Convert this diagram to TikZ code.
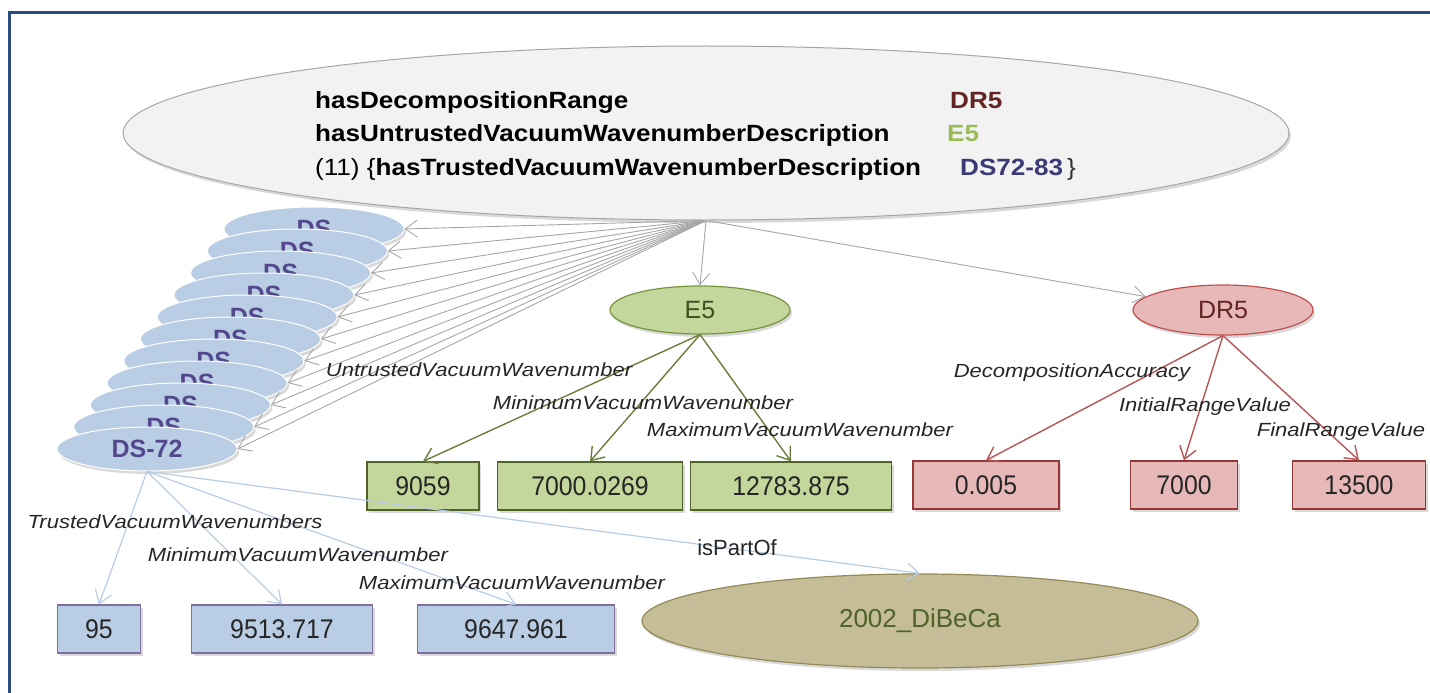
\documentclass[tikz,border=0pt]{standalone}
\usepackage{fontspec}
\setmainfont{Liberation Sans}
\newfontfamily\topfont{Liberation Sans}[FakeStretch=1.11]
\newfontfamily\edgefont{Liberation Sans}[FakeStretch=1.16]
\newfontfamily\valfont{Liberation Sans}[FakeStretch=0.92]
\usetikzlibrary{arrows.meta, shapes.geometric, shadows}
\definecolor{framecol}{RGB}{44,77,127}
\definecolor{topfill}{RGB}{242,242,242}
\definecolor{arrowgray}{RGB}{166,166,166}
\definecolor{dsfill}{RGB}{185,205,229}
\definecolor{dstext}{RGB}{84,72,140}
\definecolor{dsref}{RGB}{60,58,118}
\definecolor{efill}{RGB}{195,214,155}
\definecolor{eline}{RGB}{119,147,60}
\definecolor{edark}{RGB}{79,98,40}
\definecolor{earrow}{RGB}{108,126,60}
\definecolor{etext}{RGB}{155,187,89}
\definecolor{rfill}{RGB}{230,185,184}
\definecolor{rline}{RGB}{192,80,77}
\definecolor{rdark}{RGB}{149,55,53}
\definecolor{rtext}{RGB}{99,37,35}
\definecolor{rarrow}{RGB}{182,86,86}
\definecolor{bline}{RGB}{128,110,160}
\definecolor{barrow}{RGB}{184,204,228}
\definecolor{srcfill}{RGB}{196,189,151}
\definecolor{srcline}{RGB}{148,138,84}

\begin{document}
\begin{tikzpicture}[
      x=1pt, y=-1pt,
      >={Straight Barb[length=12pt,width=17pt]},
      shade/.style={drop shadow={opacity=0.3, shadow xshift=2pt, shadow yshift=-3pt}},
      cls/.style={ellipse, inner sep=0pt, shade},
      ds/.style={cls, fill=dsfill, draw=white, line width=1pt, minimum width=180, minimum height=44,
        font=\fontsize{25}{28}\selectfont\bfseries, text=dstext},
      tl/.style={anchor=base west, inner sep=0pt, font=\topfont\fontsize{23.5}{28}\selectfont\bfseries},
      val/.style={rectangle, inner sep=0pt, minimum height=48, shade, text=black!85,
        font=\valfont\fontsize{27}{30}\selectfont},
      gval/.style={val, fill=efill, draw=edark, line width=1.2pt},
      rval/.style={val, fill=rfill, draw=rdark, line width=1.2pt},
      bval/.style={val, fill=dsfill, draw=bline, line width=1.2pt},
      lbl/.style={inner sep=0pt, text=black!85, font=\edgefont\itshape\fontsize{19}{22}\selectfont},
      ta/.style={->, draw=arrowgray, line width=0.9pt},
      ga/.style={->, draw=earrow, line width=1.4pt},
      ra/.style={->, draw=rarrow, line width=1.4pt},
      ba/.style={->, draw=barrow, line width=1.2pt}
    ]
      \useasboundingbox (0,0) rectangle (1430,693);
      \draw[framecol, line width=3pt] (9,693) -- (9,13) -- (1430,13);

      % description node
      \node[cls, fill=topfill, draw=arrowgray, line width=1pt, minimum width=1166, minimum height=174] (top) at (706,133) {};
      \node[tl] (p1) at (315,108) {hasDecompositionRange};
      \node[tl, text=rtext] (v1) at (950,108) {DR5};
      \node[tl] (p2) at (315,141) {hasUntrustedVacuumWavenumberDescription};
      \node[tl, text=etext] (v2) at (947,141) {E5};
      \node[tl] (p3) at (315,175) {\mdseries(11) \{\bfseries hasTrustedVacuumWavenumberDescription};
      \node[tl, text=dsref] (v3) at (960,175) {DS72-83};
      \node[tl, text=black!80] (v4) at (1067,175) {\mdseries\}};

      % stack of trusted descriptions
      \foreach \i in {0,...,9}
        \node[ds] (ds\i) at ({314-16.7*\i},{229+22*\i}) {DS};
      \node[ds] (ds10) at (147,449) {DS-72};
      \foreach \i in {0,...,10}
        \draw[ta] (top.south) -- (ds\i.east);

      % untrusted description
      \node[cls, fill=efill, draw=eline, line width=1.2pt, minimum width=180, minimum height=48,
        font=\fontsize{25}{28}\selectfont, text=edark!80!black] (e5) at (700,310) {E5};
      \node[gval, minimum width=112] (unt) at (423,486) {9059};
      \node[gval, minimum width=185] (emin) at (590,486) {7000.0269};
      \node[gval, minimum width=201] (emax) at (791,486) {12783.875};
      \draw[ta] (top.south) -- (e5.north);
      \draw[ga] (e5.south) -- (unt.north);
      \draw[ga] (e5.south) -- (emin.north);
      \draw[ga] (e5.south) -- (emax.north);
      \node[lbl] at (479,370) {UntrustedVacuumWavenumber};
      \node[lbl] at (643,403) {MinimumVacuumWavenumber};
      \node[lbl] at (800,430) {MaximumVacuumWavenumber};

      % decomposition range
      \node[cls, fill=rfill, draw=rline, line width=1.2pt, minimum width=180, minimum height=50,
        font=\fontsize{25}{28}\selectfont, text=rtext] (dr5) at (1223,310) {DR5};
      \node[rval, minimum width=146] (dacc) at (986,485) {0.005};
      \node[rval, minimum width=107] (dini) at (1184,485) {7000};
      \node[rval, minimum width=133] (dfin) at (1359,485) {13500};
      \draw[ta] (top.south) -- (dr5);
      \draw[ra] (dr5.south) -- (dacc.north);
      \draw[ra] (dr5.south) -- (dini.north);
      \draw[ra] (dr5.south) -- (dfin.north);
      \node[lbl] at (1072,373) {DecompositionAccuracy};
      \node[lbl] at (1205,407) {InitialRangeValue};
      \node[lbl] at (1341,432) {FinalRangeValue};

      % values of DS-72 and its source
      \node[bval, minimum width=83] (trust) at (99,629) {95};
      \node[bval, minimum width=181] (tmin) at (282,629) {9513.717};
      \node[bval, minimum width=197] (tmax) at (516,629) {9647.961};
      \node[cls, fill=srcfill, draw=srcline, line width=1.2pt, minimum width=556, minimum height=94,
        font=\fontsize{26}{30}\selectfont, text=edark] (src) at (920,621) {2002\_DiBeCa};
      \draw[ba] (ds10.south) -- (trust.north);
      \draw[ba] (ds10.south) -- (tmin.north);
      \draw[ba] (ds10.south) -- (tmax.north);
      \draw[ba] (ds10.south) -- (src.north);
      \node[lbl] at (175,522) {TrustedVacuumWavenumbers};
      \node[lbl] at (298,555) {MinimumVacuumWavenumber};
      \node[lbl] at (512,583) {MaximumVacuumWavenumber};
      \node[inner sep=0pt, text=black!85, font=\fontsize{22}{26}\selectfont] at (737,548) {isPartOf};
    \end{tikzpicture}
\end{document}
